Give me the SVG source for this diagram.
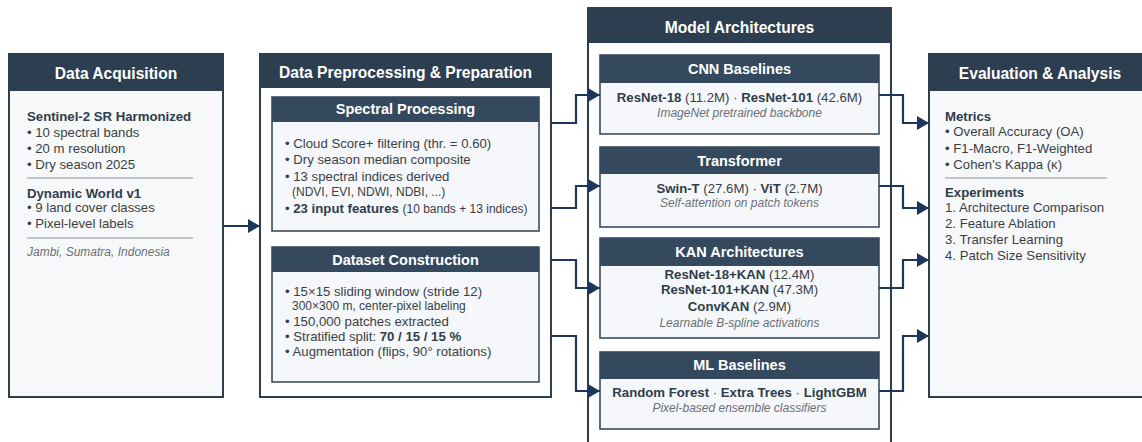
<svg xmlns="http://www.w3.org/2000/svg" width="1142" height="442" viewBox="0 0 1142 442">
<defs>
<marker id="ah" markerUnits="userSpaceOnUse" markerWidth="13" markerHeight="14" refX="12" refY="7" orient="auto">
<path d="M0,0 L12,7 L0,14 Z" fill="#1c365c"/>
</marker>
</defs>
<style>
text{font-family:"Liberation Sans",Arial,Helvetica,sans-serif}
.box{stroke:#2c3e50;stroke-width:2}
.hdr{fill:#2d3e50}
.ihdr{fill:#34495e}
.ibox{fill:#f5f7fa;stroke:#3a4b5e;stroke-width:1.6}
.t{font-size:15.6px;font-weight:bold;fill:#ffffff;text-anchor:middle}
.st{font-size:14.5px;font-weight:bold;fill:#ffffff;text-anchor:middle}
.b{font-size:13.2px;font-weight:bold;fill:#2f3d4c}
.n{font-size:13.2px;fill:#3a3f45}
.s{font-size:12px;fill:#3a3f45}
.i{font-size:12px;font-style:italic;fill:#6b7078}
.c{text-anchor:middle}
.div{stroke:#c3c6ca;stroke-width:2}
.con{fill:none;stroke:#1c365c;stroke-width:2.2;marker-end:url(#ah)}
</style>

<g id="data-acquisition">
<rect class="box" x="9" y="54" width="214" height="343" fill="#f7f8fa"/>
<rect class="hdr" x="9" y="54" width="214" height="37"/>
<text class="t" x="116" y="78.5">Data Acquisition</text>
<text class="b" x="27" y="120.5">Sentinel-2 SR Harmonized</text>
<text class="n" x="27" y="136.5">• 10 spectral bands</text>
<text class="n" x="27" y="152.5">• 20 m resolution</text>
<text class="n" x="27" y="168.5">• Dry season 2025</text>
<line class="div" x1="27" y1="178" x2="193" y2="178"/>
<text class="b" x="27" y="197.5">Dynamic World v1</text>
<text class="n" x="27" y="211.5">• 9 land cover classes</text>
<text class="n" x="27" y="227.5">• Pixel-level labels</text>
<line class="div" x1="27" y1="238" x2="193" y2="238"/>
<text class="i" x="27" y="256">Jambi, Sumatra, Indonesia</text>
</g>

<g id="data-preprocessing">
<rect class="box" x="260" y="54" width="291" height="343" fill="#ffffff"/>
<rect class="hdr" x="260" y="54" width="291" height="34"/>
<text class="t" x="405.5" y="77.5">Data Preprocessing &amp; Preparation</text>
</g>

<g id="spectral-processing">
<rect class="ibox" x="272" y="97" width="267" height="134"/>
<rect class="ihdr" x="272" y="97" width="267" height="25"/>
<text class="st" x="405.5" y="114">Spectral Processing</text>
<text class="n" x="285" y="147.5">• Cloud Score+ filtering (thr. = 0.60)</text>
<text class="n" x="285" y="163.5">• Dry season median composite</text>
<text class="n" x="285" y="180.5">• 13 spectral indices derived</text>
<text class="s" x="292" y="196">(NDVI, EVI, NDWI, NDBI, ...)</text>
<text class="n" x="285" y="212.5">• <tspan font-weight="bold" fill="#2f3d4c">23 input features</tspan> <tspan font-size="12px">(10 bands + 13 indices)</tspan></text>
</g>

<g id="dataset-construction">
<rect class="ibox" x="272" y="247" width="267" height="135"/>
<rect class="ihdr" x="272" y="247" width="267" height="25"/>
<text class="st" x="405.5" y="265">Dataset Construction</text>
<text class="n" x="285" y="295.5">• 15×15 sliding window (stride 12)</text>
<text class="s" x="292" y="310">300×300 m, center-pixel labeling</text>
<text class="n" x="285" y="325.5">• 150,000 patches extracted</text>
<text class="n" x="285" y="340.5">• Stratified split: <tspan font-weight="bold" fill="#2f3d4c">70 / 15 / 15 %</tspan></text>
<text class="n" x="285" y="355.5">• Augmentation (flips, 90° rotations)</text>
</g>

<g id="model-architectures">
<rect class="box" x="588" y="8" width="303" height="445" fill="#ffffff"/>
<rect class="hdr" x="588" y="8" width="303" height="35"/>
<text class="t" x="739.5" y="32.5">Model Architectures</text>
</g>

<g id="cnn-baselines">
<rect class="ibox" x="600" y="55" width="279" height="79"/>
<rect class="ihdr" x="600" y="55" width="279" height="28"/>
<text class="st" x="739.5" y="74">CNN Baselines</text>
<text class="n c" x="739.5" y="101.5"><tspan font-weight="bold" fill="#2f3d4c">ResNet-18</tspan> (11.2M) · <tspan font-weight="bold" fill="#2f3d4c">ResNet-101</tspan> (42.6M)</text>
<text class="i c" x="739.5" y="117">ImageNet pretrained backbone</text>
</g>

<g id="transformer">
<rect class="ibox" x="600" y="147" width="279" height="80"/>
<rect class="ihdr" x="600" y="147" width="279" height="27"/>
<text class="st" x="739.5" y="166">Transformer</text>
<text class="n c" x="739.5" y="192.5"><tspan font-weight="bold" fill="#2f3d4c">Swin-T</tspan> (27.6M) · <tspan font-weight="bold" fill="#2f3d4c">ViT</tspan> (2.7M)</text>
<text class="i c" x="739.5" y="207">Self-attention on patch tokens</text>
</g>

<g id="kan-architectures">
<rect class="ibox" x="600" y="238" width="279" height="100"/>
<rect class="ihdr" x="600" y="238" width="279" height="28"/>
<text class="st" x="739.5" y="257">KAN Architectures</text>
<text class="n c" x="739.5" y="278.5"><tspan font-weight="bold" fill="#2f3d4c">ResNet-18+KAN</tspan> (12.4M)</text>
<text class="n c" x="739.5" y="293.5"><tspan font-weight="bold" fill="#2f3d4c">ResNet-101+KAN</tspan> (47.3M)</text>
<text class="n c" x="739.5" y="310.5"><tspan font-weight="bold" fill="#2f3d4c">ConvKAN</tspan> (2.9M)</text>
<text class="i c" x="739.5" y="327">Learnable B-spline activations</text>
</g>

<g id="ml-baselines">
<rect class="ibox" x="600" y="352" width="279" height="77"/>
<rect class="ihdr" x="600" y="352" width="279" height="27"/>
<text class="st" x="739.5" y="370">ML Baselines</text>
<text class="n c" x="739.5" y="396.5"><tspan font-weight="bold" fill="#2f3d4c">Random Forest</tspan> · <tspan font-weight="bold" fill="#2f3d4c">Extra Trees</tspan> · <tspan font-weight="bold" fill="#2f3d4c">LightGBM</tspan></text>
<text class="i c" x="739.5" y="412">Pixel-based ensemble classifiers</text>
</g>

<g id="evaluation-analysis">
<rect class="box" x="929" y="54" width="222" height="343" fill="#f7f8fa"/>
<rect class="hdr" x="929" y="54" width="222" height="37"/>
<text class="t" x="1040" y="78.5">Evaluation &amp; Analysis</text>
<text class="b" x="945" y="120.5">Metrics</text>
<text class="n" x="945" y="135.5">• Overall Accuracy (OA)</text>
<text class="n" x="945" y="152.5">• F1-Macro, F1-Weighted</text>
<text class="n" x="945" y="168.5">• Cohen's Kappa (κ)</text>
<line class="div" x1="945" y1="178" x2="1107" y2="178"/>
<text class="b" x="945" y="196.5">Experiments</text>
<text class="n" x="945" y="211.5">1. Architecture Comparison</text>
<text class="n" x="945" y="227.5">2. Feature Ablation</text>
<text class="n" x="945" y="243.5">3. Transfer Learning</text>
<text class="n" x="945" y="259.5">4. Patch Size Sensitivity</text>
</g>

<g id="connectors">
<path class="con" d="M223,226 H260"/>
<path class="con" d="M551,123 H576 V95 H600"/>
<path class="con" d="M551,208 H576 V186 H600"/>
<path class="con" d="M551,260 H576 V288 H600"/>
<path class="con" d="M551,336 H576 V391 H600"/>
<path class="con" d="M879,95 H903 V123 H929"/>
<path class="con" d="M879,186 H903 V208 H929"/>
<path class="con" d="M879,288 H903 V260 H929"/>
<path class="con" d="M879,391 H903 V336 H929"/>
</g>
</svg>
